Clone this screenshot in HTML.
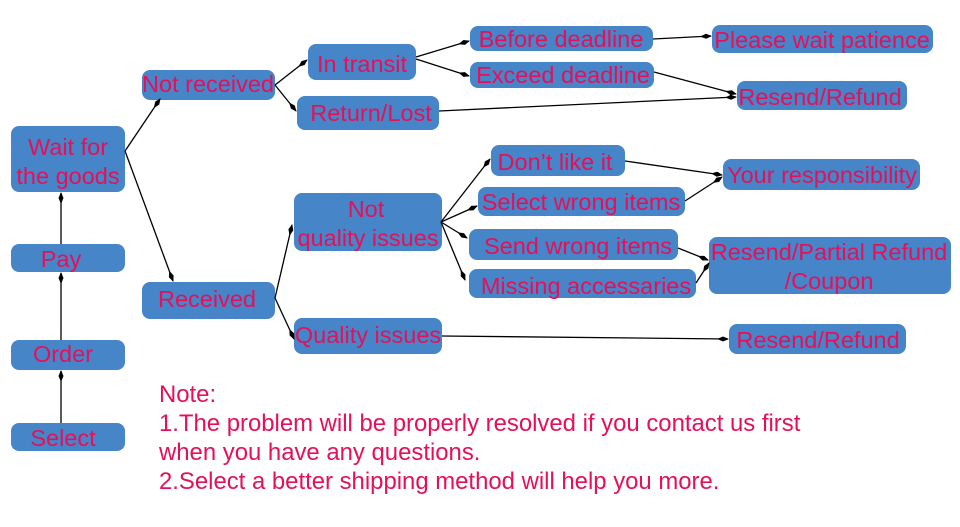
<!DOCTYPE html>
<html><head><meta charset="utf-8"><style>
body{margin:0;background:#fff;width:960px;height:522px;overflow:hidden}
svg text{font-family:"Liberation Sans",sans-serif;fill:#e6105a;font-size:23.5px}
svg g.n text{font-size:23.9px}
</style></head><body>
<svg width="960" height="522" viewBox="0 0 960 522">
<defs><marker id="m" markerWidth="12" markerHeight="6" refX="11" refY="3" orient="auto" markerUnits="userSpaceOnUse"><path d="M0,3 L6,0.5 L12,3 L6,5.5z" fill="#000"/></marker></defs>
<g fill="#4585c8">
<rect x="11" y="126" width="114" height="66" rx="8"/>
<rect x="11" y="244" width="114" height="28" rx="8"/>
<rect x="11" y="340" width="114" height="30" rx="8"/>
<rect x="11" y="423" width="114" height="28" rx="8"/>
<rect x="142" y="70" width="133" height="30" rx="8"/>
<rect x="142" y="282" width="133" height="37" rx="8"/>
<rect x="308" y="44" width="108" height="36" rx="8"/>
<rect x="297" y="96" width="142" height="34" rx="8"/>
<rect x="294" y="193" width="148" height="58" rx="8"/>
<rect x="294" y="318" width="148" height="36" rx="8"/>
<rect x="470" y="26" width="183" height="25" rx="8"/>
<rect x="470" y="62" width="184" height="26" rx="8"/>
<rect x="712" y="25" width="221" height="28" rx="8"/>
<rect x="737" y="81" width="170" height="29" rx="8"/>
<rect x="491" y="145" width="134" height="31" rx="8"/>
<rect x="478" y="187" width="207" height="29" rx="8"/>
<rect x="469" y="229" width="209" height="31" rx="8"/>
<rect x="469" y="269" width="227" height="29" rx="8"/>
<rect x="723" y="159" width="197" height="31" rx="8"/>
<rect x="709" y="237" width="242" height="57" rx="8"/>
<rect x="729" y="324" width="177" height="30" rx="8"/>
</g>
<g stroke="#000" stroke-width="1.3" fill="none" marker-end="url(#m)">
<line x1="61" y1="423" x2="61" y2="371"/>
<line x1="61" y1="340" x2="61" y2="273"/>
<line x1="61" y1="244" x2="61" y2="193"/>
<line x1="125" y1="151" x2="160" y2="99"/>
<line x1="125" y1="151" x2="173" y2="281"/>
<line x1="275" y1="85" x2="307" y2="60"/>
<line x1="275" y1="85" x2="296" y2="111"/>
<line x1="275" y1="298" x2="292" y2="225"/>
<line x1="275" y1="298" x2="294" y2="339"/>
<line x1="416" y1="57" x2="469" y2="41"/>
<line x1="416" y1="59" x2="469" y2="76"/>
<line x1="653" y1="39" x2="711" y2="36"/>
<line x1="654" y1="72" x2="736" y2="94"/>
<line x1="439" y1="111" x2="736" y2="97"/>
<line x1="441" y1="222" x2="490" y2="159"/>
<line x1="441" y1="222" x2="477" y2="206"/>
<line x1="441" y1="222" x2="467" y2="238"/>
<line x1="441" y1="222" x2="465" y2="280"/>
<line x1="625" y1="161" x2="722" y2="175"/>
<line x1="685" y1="201" x2="722" y2="177"/>
<line x1="678" y1="248" x2="708" y2="260"/>
<line x1="696" y1="283" x2="709" y2="263"/>
<line x1="442" y1="336" x2="728" y2="339"/>
</g>
<g text-anchor="middle">
<text x="68" y="155">Wait for</text><text x="68" y="184">the goods</text>
<text x="61" y="267">Pay</text>
<text x="63" y="362">Order</text>
<text x="63" y="446">Select</text>
<text x="208" y="92">Not received</text>
<text x="207" y="307">Received</text>
<text x="362" y="72">In transit</text>
<text x="371" y="121">Return/Lost</text>
<text x="366" y="217">Not</text><text x="368" y="246">quality issues</text>
<text x="368" y="343">Quality issues</text>
<text x="561" y="47">Before deadline</text>
<text x="563" y="83">Exceed deadline</text>
<text x="822" y="48">Please wait patience</text>
<text x="820" y="105">Resend/Refund</text>
<text x="555" y="170">Don’t like it</text>
<text x="581" y="210">Select wrong items</text>
<text x="578" y="254">Send wrong items</text>
<text x="586" y="294">Missing accessaries</text>
<text x="822" y="183">Your responsibility</text>
<text x="829" y="260">Resend/Partial Refund</text><text x="829" y="289">/Coupon</text>
<text x="818" y="348">Resend/Refund</text>
</g>
<g class="n">
<text x="159" y="402">Note:</text>
<text x="159" y="431">1.The problem will be properly resolved if you contact us first</text>
<text x="159" y="460">when you have any questions.</text>
<text x="159" y="489">2.Select a better shipping method will help you more.</text>
</g>
</svg>
</body></html>
